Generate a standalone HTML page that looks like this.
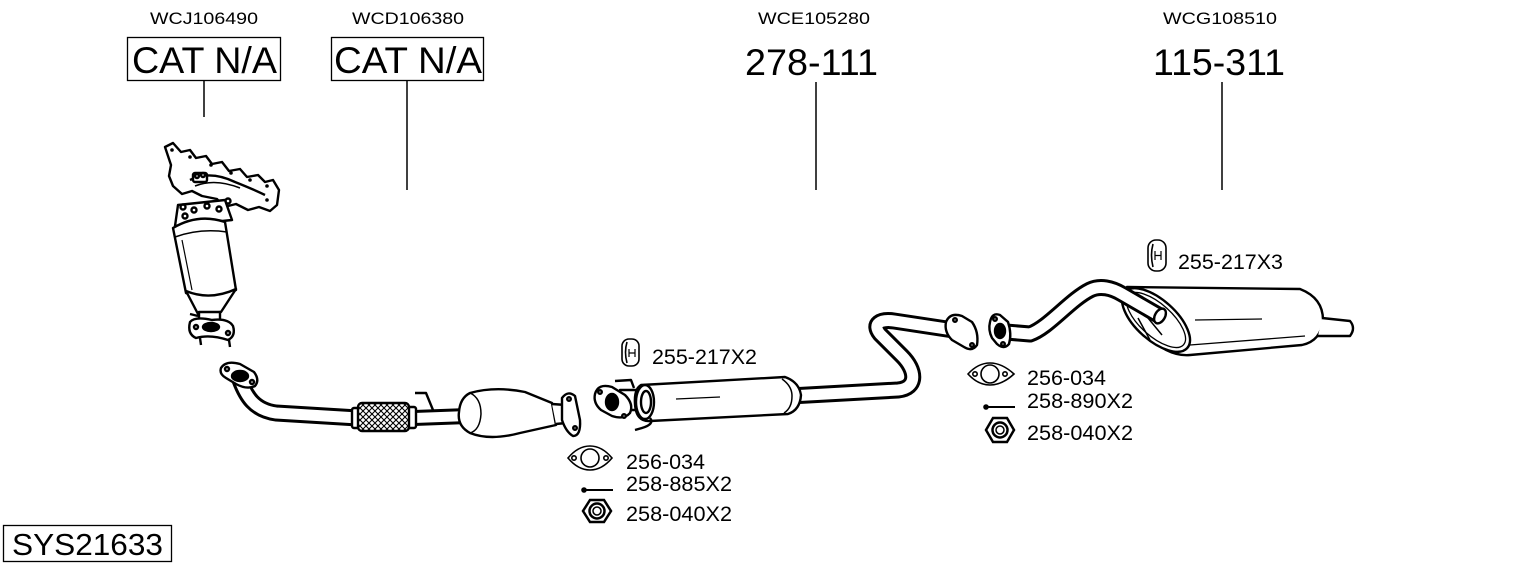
<!DOCTYPE html>
<html><head><meta charset="utf-8"><style>
html,body{margin:0;padding:0;background:#fff;}
svg{display:block;}
text{font-family:"Liberation Sans",Arial,sans-serif;fill:#000;}
</style></head><body>
<svg width="1530" height="566" viewBox="0 0 1530 566" xmlns="http://www.w3.org/2000/svg">
<defs>
<pattern id="hatch" width="6" height="6" patternUnits="userSpaceOnUse">
<rect width="6" height="6" fill="#fff"/>
<path d="M0,6 L6,0 M0,0 L6,6" stroke="#000" stroke-width="1.1"/>
</pattern>
</defs>

<!-- headers -->
<text x="204" y="24" font-size="17" text-anchor="middle" textLength="108" lengthAdjust="spacingAndGlyphs">WCJ106490</text>
<rect x="127.5" y="37.5" width="153" height="43" fill="none" stroke="#000" stroke-width="1.3"/>
<text x="132" y="73" font-size="37" textLength="145" lengthAdjust="spacingAndGlyphs">CAT N/A</text>
<line x1="204" y1="81" x2="204" y2="117" stroke="#000" stroke-width="1.5"/>

<text x="408" y="24" font-size="17" text-anchor="middle" textLength="112" lengthAdjust="spacingAndGlyphs">WCD106380</text>
<rect x="331.5" y="37.5" width="152" height="43" fill="none" stroke="#000" stroke-width="1.3"/>
<text x="334" y="73" font-size="37" textLength="148" lengthAdjust="spacingAndGlyphs">CAT N/A</text>
<line x1="407" y1="81" x2="407" y2="190" stroke="#000" stroke-width="1.5"/>

<text x="814" y="24" font-size="17" text-anchor="middle" textLength="112" lengthAdjust="spacingAndGlyphs">WCE105280</text>
<text x="745" y="75" font-size="37" textLength="133" lengthAdjust="spacingAndGlyphs">278-111</text>
<line x1="816" y1="82" x2="816" y2="190" stroke="#000" stroke-width="1.5"/>

<text x="1220" y="24" font-size="17" text-anchor="middle" textLength="114" lengthAdjust="spacingAndGlyphs">WCG108510</text>
<text x="1153" y="75" font-size="37" textLength="132" lengthAdjust="spacingAndGlyphs">115-311</text>
<line x1="1222" y1="82" x2="1222" y2="190" stroke="#000" stroke-width="1.5"/>

<!-- SYS box -->
<rect x="3.5" y="525.5" width="168" height="36" fill="none" stroke="#000" stroke-width="1.3"/>
<text x="12" y="555" font-size="31" textLength="151" lengthAdjust="spacingAndGlyphs">SYS21633</text>

<!-- ============ Manifold cat ============ -->
<g stroke="#000" stroke-width="2.4" fill="#fff" stroke-linejoin="round">
<path d="M165,147 L173,143 L181,152 L190,150 L196,158 L206,156 L212,164 L222,162 L229,171 L240,169 L247,177 L258,175 L265,182 L273,180 L279,190 L277,205 L270,211 L259,207 L248,210 L236,204 L224,207 L217,199 L202,196 L192,191 L182,194 L173,186 L169,176 L171,165 Z"/>
<circle cx="172" cy="150" r="1.8" fill="#000" stroke="none"/>
<circle cx="190" cy="157" r="1.8" fill="#000" stroke="none"/>
<circle cx="211" cy="165" r="1.8" fill="#000" stroke="none"/>
<circle cx="231" cy="173" r="1.8" fill="#000" stroke="none"/>
<circle cx="250" cy="180" r="1.8" fill="#000" stroke="none"/>
<circle cx="267" cy="186" r="1.8" fill="#000" stroke="none"/>
<circle cx="267" cy="200" r="1.8" fill="#000" stroke="none"/>
<circle cx="228" cy="201" r="2.5" fill="#fff"/>
<path d="M190,180 Q210,170 235,182 Q255,190 265,195" fill="none"/>
<path d="M195,186 Q215,178 240,188" fill="none" stroke-width="1.5"/>
<rect x="193" y="173" width="14" height="9" rx="2"/>
<circle cx="197" cy="176" r="2"/><circle cx="203" cy="175" r="2"/>
<path d="M178,205 L225,200 L232,220 L175,226 Z"/>
<circle cx="183" cy="207" r="2.5"/><circle cx="194" cy="210" r="2.5"/><circle cx="207" cy="206" r="2.5"/><circle cx="219" cy="209" r="2.5"/><circle cx="185" cy="216" r="2.5"/>
<path d="M173,228 L186,293 Q210,304 236,290 L225,222 Q198,213 173,228 Z"/>
<path d="M175,237 Q200,228 227,232" fill="none" stroke-width="1.5"/>
<path d="M182,240 L192,290" fill="none" stroke-width="1.2"/>
<path d="M186,291 L198,314 L221,312 L236,289 Q210,301 186,291 Z"/>
<rect x="199" y="312" width="21" height="12"/>
<path d="M190,322 Q195,316 212,320 Q228,318 233,326 Q236,336 228,340 Q210,334 196,338 Q187,334 190,322 Z"/>
<circle cx="196" cy="327" r="2"/><circle cx="228" cy="333" r="2"/>
<ellipse cx="211" cy="327" rx="8" ry="4" fill="#000"/>
<line x1="200" y1="338" x2="201" y2="345"/><line x1="229" y1="340" x2="230" y2="347"/>
<line x1="190" y1="314" x2="198" y2="316"/>
</g>

<!-- ============ Front pipe ============ -->
<g fill="none" stroke-linejoin="round">
<path d="M240,380 C246,396 254,410 276,413 L358,418" stroke="#000" stroke-width="17"/>
<path d="M240,380 C246,396 254,410 276,413 L358,418" stroke="#fff" stroke-width="11"/>
<path d="M414,418 L468,416" stroke="#000" stroke-width="16"/>
<path d="M414,418 L468,416" stroke="#fff" stroke-width="10"/>
</g>
<g stroke="#000" stroke-width="2.4" fill="#fff" stroke-linejoin="round">
<path d="M221,368 Q226,360 240,364 L254,372 Q260,380 255,386 Q247,390 236,384 L226,378 Q219,374 221,368 Z"/>
<ellipse cx="240" cy="376" rx="8" ry="5" fill="#000"/>
<circle cx="227" cy="369" r="2"/><circle cx="252" cy="382" r="2"/>
<rect x="352" y="408" width="8" height="20" rx="2"/>
<rect x="407" y="407" width="9" height="21" rx="2"/>
<rect x="358" y="403" width="51" height="28" rx="4" fill="url(#hatch)"/>
<path d="M415,393 L426,393 L433,410" fill="none"/>
<path d="M470,393 Q495,386 525,392 L552,403 L556,425 L520,433 Q490,441 470,433 Q457,426 459,412 Q460,398 470,393 Z"/>
<path d="M470,393 Q481,398 481,414 Q480,430 470,433" fill="none" stroke-width="1.5"/>
<path d="M552,404 L566,405 L566,423 L556,424" />
<path d="M562,398 Q568,390 575,396 L580,420 Q581,436 573,436 Q566,432 562,420 Z"/>
<circle cx="569" cy="399" r="1.8"/><circle cx="575" cy="428" r="1.8"/>
</g>

<!-- ============ Middle pipe + silencer ============ -->
<g fill="none" stroke-linejoin="round" stroke-linecap="butt">
<path d="M790,396 L898,390 C918,388 916,370 902,356 L880,334 C872,324 880,319 894,321 L960,331" stroke="#000" stroke-width="17"/>
<path d="M790,396 L898,390 C918,388 916,370 902,356 L880,334 C872,324 880,319 894,321 L960,331" stroke="#fff" stroke-width="11"/>
</g>
<g stroke="#000" stroke-width="2.4" fill="#fff" stroke-linejoin="round">
<path d="M946,322 Q950,312 962,316 L972,322 Q979,332 977,345 Q972,352 964,347 L952,340 Q944,332 946,322 Z"/>
<circle cx="955" cy="320" r="1.8"/><circle cx="972" cy="345" r="1.8"/>
<path d="M615,381 L631,380 L634,388" fill="none"/>
<path d="M620,390 L642,390 L642,410 L620,410 Z"/>
<path d="M595,394 Q598,383 612,387 L625,395 Q634,404 630,413 Q624,420 612,416 L601,410 Q593,403 595,394 Z"/>
<ellipse cx="612" cy="402" rx="6" ry="8" fill="#000"/>
<circle cx="600" cy="392" r="1.8"/><circle cx="624" cy="416" r="1.8"/>
<path d="M641,385 L785,377 Q799,382 801,395 Q800,410 788,414 L650,421 Q636,422 635,404 Q634,389 641,385 Z"/>
<ellipse cx="645" cy="402" rx="9" ry="17"/>
<ellipse cx="646" cy="402" rx="5" ry="11"/>
<path d="M676,399 L720,397" fill="none" stroke-width="1.3"/>
<path d="M782,379 Q792,386 792,396 Q792,408 784,413" fill="none" stroke-width="1.5"/>
<path d="M650,418 Q655,424 642,428 L635,430" fill="none"/>
</g>

<!-- ============ Rear pipe + silencer ============ -->
<g stroke="#000" stroke-width="2.4" fill="#fff" stroke-linejoin="round">
<path d="M1127,287 L1300,289 Q1323,298 1323,320 Q1321,341 1302,345 L1190,355 Q1168,357 1145,334 Q1117,305 1127,287 Z"/>
<ellipse cx="1156" cy="320" rx="42" ry="20" transform="rotate(42 1156 320)"/>
<ellipse cx="1156" cy="320" rx="37" ry="16" transform="rotate(42 1156 320)" fill="none" stroke-width="1.3"/>
<path d="M1195,320 L1262,319" fill="none" stroke-width="1.3"/>
<path d="M1190,345 L1305,336" fill="none" stroke-width="1.3"/>
<path d="M1322,318 L1350,321 Q1356,328 1350,336 L1318,336" />
<path d="M1138,318 L1150,340 M1143,312 L1162,335" fill="none" stroke-width="1.5"/>
</g>
<g fill="none" stroke-linejoin="round">
<path d="M1006,332 L1030,334 C1048,328 1070,300 1090,290 C1100,285 1112,288 1122,294 L1160,316" stroke="#000" stroke-width="17"/>
<path d="M1006,332 L1030,334 C1048,328 1070,300 1090,290 C1100,285 1112,288 1122,294 L1160,316" stroke="#fff" stroke-width="11"/>
</g>
<g stroke="#000" stroke-width="2.4" fill="#fff">
<ellipse cx="1160" cy="316" rx="5" ry="8" transform="rotate(30 1160 316)"/>
<path d="M990,322 Q992,312 1000,315 L1008,322 Q1012,334 1009,344 Q1004,350 997,344 L992,338 Q988,330 990,322 Z"/>
<ellipse cx="1000" cy="331" rx="5" ry="7" fill="#000"/>
<circle cx="995" cy="319" r="1.8"/><circle cx="1003" cy="344" r="1.8"/>
</g>

<!-- ============ small parts ============ -->
<!-- hangers -->
<g stroke="#000" stroke-width="1.6" fill="#fff">
<rect x="622" y="339" width="17" height="27" rx="7"/>
<path d="M627,342 Q624,352 627,363" fill="none"/>
<path d="M629,349 L629,357 M629,353 L635,353 M635,349 L635,357" fill="none" stroke-width="1.2"/>
<rect x="1148" y="240" width="18" height="31" rx="8"/>
<path d="M1153,244 Q1150,255 1153,267" fill="none"/>
<path d="M1155,251 L1155,260 M1155,255.5 L1161,255.5 M1161,251 L1161,260" fill="none" stroke-width="1.2"/>
</g>
<text x="652" y="364" font-size="21" textLength="105" lengthAdjust="spacingAndGlyphs">255-217X2</text>
<text x="1178" y="269" font-size="21" textLength="105" lengthAdjust="spacingAndGlyphs">255-217X3</text>

<!-- left group -->
<g stroke="#000" stroke-width="1.6" fill="#fff">
<path d="M568,458 Q578,446 590,446 Q602,446 612,458 Q602,470 590,470 Q578,470 568,458 Z"/>
<circle cx="590" cy="458" r="9"/>
<circle cx="574" cy="458" r="2.2"/><circle cx="606" cy="458" r="2.2"/>
<line x1="582" y1="490" x2="613" y2="490" stroke-width="2"/>
<circle cx="584" cy="490" r="2" fill="#000"/>
<path d="M590,500 L604,500 L611,511 L604,522 L590,522 L583,511 Z" stroke-width="2.5"/>
<circle cx="597" cy="511" r="7.5" stroke-width="2.5"/>
<circle cx="597" cy="511" r="4" stroke-width="1.5"/>
</g>
<text x="626" y="469" font-size="21" textLength="79" lengthAdjust="spacingAndGlyphs">256-034</text>
<text x="626" y="491" font-size="21" textLength="106" lengthAdjust="spacingAndGlyphs">258-885X2</text>
<text x="626" y="521" font-size="21" textLength="106" lengthAdjust="spacingAndGlyphs">258-040X2</text>

<!-- right group -->
<g stroke="#000" stroke-width="1.6" fill="#fff">
<path d="M968,374 Q978,363 990,363 Q1002,363 1014,374 Q1002,385 990,385 Q978,385 968,374 Z"/>
<circle cx="990" cy="374" r="9"/>
<circle cx="975" cy="374" r="2.2"/><circle cx="1005" cy="374" r="2.2"/>
<line x1="984" y1="407" x2="1015" y2="407" stroke-width="2"/>
<circle cx="986" cy="407" r="2" fill="#000"/>
<path d="M993,418 L1007,418 L1014,430 L1007,442 L993,442 L986,430 Z" stroke-width="2.5"/>
<circle cx="1000" cy="430" r="7.5" stroke-width="2.5"/>
<circle cx="1000" cy="430" r="4" stroke-width="1.5"/>
</g>
<text x="1027" y="385" font-size="21" textLength="79" lengthAdjust="spacingAndGlyphs">256-034</text>
<text x="1027" y="408" font-size="21" textLength="106" lengthAdjust="spacingAndGlyphs">258-890X2</text>
<text x="1027" y="440" font-size="21" textLength="106" lengthAdjust="spacingAndGlyphs">258-040X2</text>
</svg>
</body></html>
